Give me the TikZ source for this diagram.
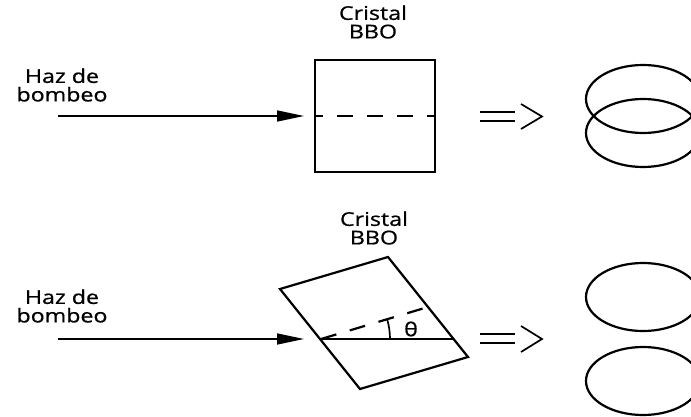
\documentclass[tikz,border=0pt]{standalone}
\usepackage{fontspec}
\setmainfont{Open Sans}[FakeStretch=1.22, FakeBold=0.8]
\usetikzlibrary{arrows.meta}

\tikzset{
  lbl/.style={align=center, inner sep=0pt, font=\fontsize{19}{18.5}\selectfont},
  beam/.style={line width=1.5pt, -{Triangle[length=27pt,width=11pt]}},
  crystal/.style={line width=2.2pt},
  axisline/.style={line width=2.2pt, dash pattern=on 16pt off 14pt},
  implies/.style={line width=1.7pt},
  ring/.style={line width=2.2pt},
}

\begin{document}
\begin{tikzpicture}[x=1pt, y=-1pt]
  \useasboundingbox (0,0) rectangle (691,417);

  % ---------- upper panel: crystal at normal incidence ----------
  \node[lbl] (tlabel) at (373,22) {Cristal\\BBO};
  \node[lbl] (tpump) at (62,85) {Haz de\\bombeo};

  \coordinate (tstart) at (58,116);
  \coordinate (tin) at (315,116);
  \coordinate (tout) at (435,116);
  \coordinate (ttip) at (304,116);
  \draw[crystal] (315,60) rectangle (435,172);
  \draw[axisline, dash phase=8pt] (tin) -- (tout);
  \draw[beam] (tstart) -- (ttip);

  % double arrow
  \draw[implies] (480,112) -- (515,112);
  \draw[implies] (480,121) -- (515,121);
  \draw[implies] (521,104) -- (542,116.5) -- (521,129);

  % overlapping output cones
  \draw[ring] (643,99) ellipse [x radius=57, y radius=34];
  \draw[ring] (643,133) ellipse [x radius=57, y radius=34];

  % ---------- lower panel: tilted crystal ----------
  \node[lbl] (blabel) at (374,228) {Cristal\\BBO};
  \node[lbl] (bpump) at (62,306) {Haz de\\bombeo};

  \coordinate (A) at (280,289);
  \coordinate (B) at (388,257);
  \coordinate (C) at (468,357);
  \coordinate (D) at (360,389);
  \coordinate (bin) at (321,339);
  \coordinate (bout) at (453,339);
  \coordinate (bmid) at (428,307);
  \coordinate (bstart) at (58,339);
  \coordinate (btip) at (304,339);

  \draw[crystal, line join=miter] (A) -- (B) -- (C) -- (D) -- cycle;
  \draw[line width=2.2pt] (bin) -- (bout);
  \draw[axisline, dash phase=0pt] (bin) -- (bmid);
  \draw[line width=1.7pt] ([shift={(0:69)}]bin) arc[start angle=0, end angle=-16.6, radius=69];
  \node[lbl] (theta) at (411,329) {θ};
  \draw[beam] (bstart) -- (btip);

  % double arrow
  \draw[implies] (480,334) -- (515,334);
  \draw[implies] (480,343) -- (515,343);
  \draw[implies] (521,326) -- (542,339) -- (521,352);

  % separated output cones
  \draw[ring] (643,297) ellipse [x radius=57, y radius=34];
  \draw[ring] (643,381) ellipse [x radius=57, y radius=34];
\end{tikzpicture}
\end{document}
